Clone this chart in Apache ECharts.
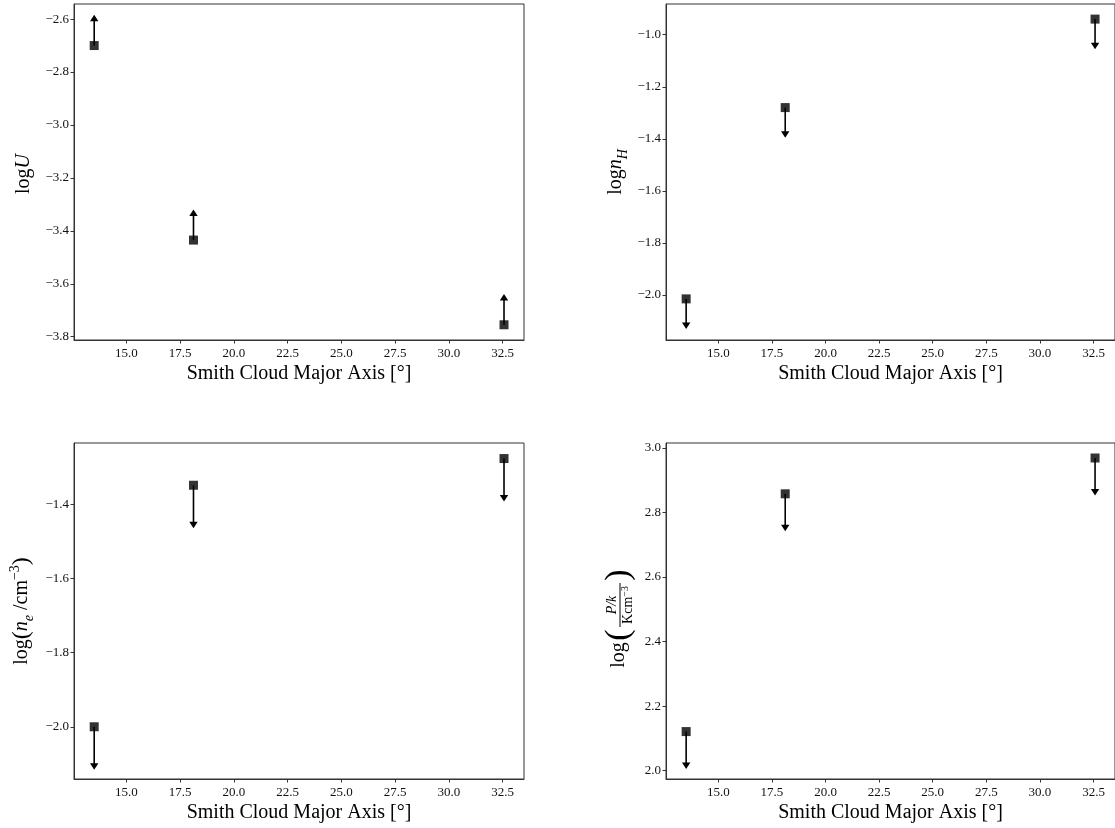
<!DOCTYPE html>
<html>
<head>
<meta charset="utf-8">
<script src="https://cdn.jsdelivr.net/npm/echarts@6/dist/echarts.min.js"></script>
<style>
html,body{margin:0;padding:0;background:#fff;}
#chart{width:1115px;height:828px;}
</style>
</head>
<body>
<div id="chart"></div>
<script>
// ---- data ----
const smithX = [13.5, 18.12, 32.57];            // Smith Cloud major axis [deg]
const logU   = [-2.70, -3.435, -3.755];         // lower limits
const logNH  = [-2.015, -1.280, -0.940];        // upper limits
const logNe  = [-2.000, -1.348, -1.276];        // upper limits
const logPk  = [2.121, 2.858, 2.969];           // upper limits
const arrowLen = 0.116;                          // length of limit arrows (dex)

const xTicks   = [15.0, 17.5, 20.0, 22.5, 25.0, 27.5, 30.0, 32.5];
const yTicksU  = [-3.8, -3.6, -3.4, -3.2, -3.0, -2.8, -2.6];
const yTicksNH = [-2.0, -1.8, -1.6, -1.4, -1.2, -1.0];
const yTicksNe = [-2.0, -1.8, -1.6, -1.4];
const yTicksPk = [2.0, 2.2, 2.4, 2.6, 2.8, 3.0];

const FONT = "'Liberation Serif', 'DejaVu Serif', serif";
const AX = '#333';

function fmt(v){ return v.toFixed(1).replace('-', '\u2212'); }

const grids = [
  {left:74,  top:4,   width:450, height:336},
  {left:666, top:4,   width:450, height:336},
  {left:74,  top:443, width:450, height:336},
  {left:666, top:443, width:450, height:336}
].map(g => Object.assign(g, {show:true, borderColor:AX, borderWidth:1, containLabel:false}));

const yRanges = [[-3.8125, -2.543], [-2.173, -0.882], [-2.141, -1.234], [1.974, 3.0155]];
const yTickSets = [yTicksU, yTicksNH, yTicksNe, yTicksPk];
const yData = [logU, logNH, logNe, logPk];
const dirs = [1, -1, -1, -1];

const xAxes = grids.map((g,i)=>({
  type:'value', gridIndex:i, min:12.56, max:33.5,
  name:'Smith Cloud Major Axis [°]', nameLocation:'middle', nameGap:24,
  nameTextStyle:{fontFamily:FONT, fontSize:20, color:'#000'},
  axisLine:{show:true, lineStyle:{color:AX, width:1}},
  axisTick:{show:true, length:3.5, lineStyle:{color:AX, width:1}, customValues:xTicks},
  axisLabel:{show:true, margin:7, fontFamily:FONT, fontSize:13, color:'#111', formatter:fmt, customValues:xTicks},
  splitLine:{show:false}
}));

const yAxes = grids.map((g,i)=>({
  type:'value', gridIndex:i, min:yRanges[i][0], max:yRanges[i][1],
  axisLine:{show:true, onZero:false, lineStyle:{color:AX, width:1}},
  axisTick:{show:true, length:3.5, lineStyle:{color:AX, width:1}, customValues:yTickSets[i]},
  axisLabel:{show:true, margin:5, fontFamily:FONT, fontSize:13, color:'#111', formatter:fmt, customValues:yTickSets[i]},
  splitLine:{show:false}
}));

function arrowRender(params, api){
  const x = api.value(0), y = api.value(1), tip = api.value(2);
  const p0 = api.coord([x, y]);
  const p1 = api.coord([x, tip]);
  const s = p1[1] < p0[1] ? 1 : -1; // 1: up
  const headH = 6.5, headW = 4.2;
  const baseY = p1[1] + s*headH;
  return {
    type:'group',
    children:[
      {type:'line', shape:{x1:p0[0], y1:p0[1], x2:p1[0], y2:baseY - s}, style:{stroke:'#000', lineWidth:1.6}},
      {type:'polygon', shape:{points:[[p1[0], p1[1]], [p1[0]-headW, baseY], [p1[0]+headW, baseY]]}, style:{fill:'#000'}}
    ]
  };
}

const series = [];
yData.forEach((ys,i)=>{
  series.push({
    type:'custom', xAxisIndex:i, yAxisIndex:i, renderItem:arrowRender, z:2,
    data: smithX.map((x,k)=>[x, ys[k], ys[k] + dirs[i]*arrowLen]),
    silent:true
  });
  series.push({
    type:'scatter', xAxisIndex:i, yAxisIndex:i, symbol:'rect', symbolSize:9, z:3,
    itemStyle:{color:'#000'},
    data: smithX.map((x,k)=>[x, ys[k]]),
    silent:true
  });
});

const rich = {
  t:{fontFamily:FONT, fontSize:20, color:'#000', lineHeight:28, verticalAlign:'middle'},
  i:{fontFamily:FONT, fontSize:20, fontStyle:'italic', color:'#000', lineHeight:28, verticalAlign:'middle'},
  sub:{fontFamily:FONT, fontSize:14, fontStyle:'italic', color:'#000', lineHeight:28, verticalAlign:'bottom'},
  sup:{fontFamily:FONT, fontSize:14, color:'#000', lineHeight:28, verticalAlign:'top'},
  big:{fontFamily:FONT, fontSize:24, color:'#000', lineHeight:28, verticalAlign:'middle'}
};
function yLabel(x, y, text){
  return {type:'text', x:x, y:y, rotation:Math.PI/2,
    style:{text:text, rich:rich, align:'center', verticalAlign:'middle', fontFamily:FONT, fontSize:20, fill:'#000'}};
}

const graphic = [
  yLabel(24, 174, '{t|log}{i|U}'),
  yLabel(616, 172, '{t|log}{i|n}{sub|H}'),
  yLabel(22, 611, '{t|log}{big|(}{i|n}{sub|e}{t| /cm}{sup|\u22123}{big|)}'),
  {type:'group', x:619, y:616, rotation:Math.PI/2, children:[
    {type:'text', x:-39, y:0, style:{text:'log', fontFamily:FONT, fontSize:20, fill:'#000', align:'center', verticalAlign:'middle'}},
    {type:'text', x:-19, y:0, style:{text:'(', fontFamily:FONT, fontSize:34, fill:'#000', align:'center', verticalAlign:'middle'}},
    {type:'text', x:11, y:-7, style:{text:'P/k', fontFamily:FONT, fontSize:14, fontStyle:'italic', fill:'#000', align:'center', verticalAlign:'middle'}},
    {type:'line', shape:{x1:-11, y1:1, x2:33, y2:1}, style:{stroke:'#000', lineWidth:1}},
    {type:'text', x:11, y:9, style:{text:'{a|Kcm}{b|\u22123}', rich:{a:{fontFamily:FONT, fontSize:14, color:'#000', lineHeight:15, verticalAlign:'bottom'}, b:{fontFamily:FONT, fontSize:10, color:'#000', lineHeight:15, verticalAlign:'top'}}, align:'center', verticalAlign:'middle'}},
    {type:'text', x:41, y:0, style:{text:')', fontFamily:FONT, fontSize:34, fill:'#000', align:'center', verticalAlign:'middle'}}
  ]}
];

const chart = echarts.init(document.getElementById('chart'), null, {renderer:'canvas'});
chart.setOption({
  animation:false,
  backgroundColor:'#fff',
  grid:grids, xAxis:xAxes, yAxis:yAxes, series:series, graphic:graphic
});
</script>
</body>
</html>
